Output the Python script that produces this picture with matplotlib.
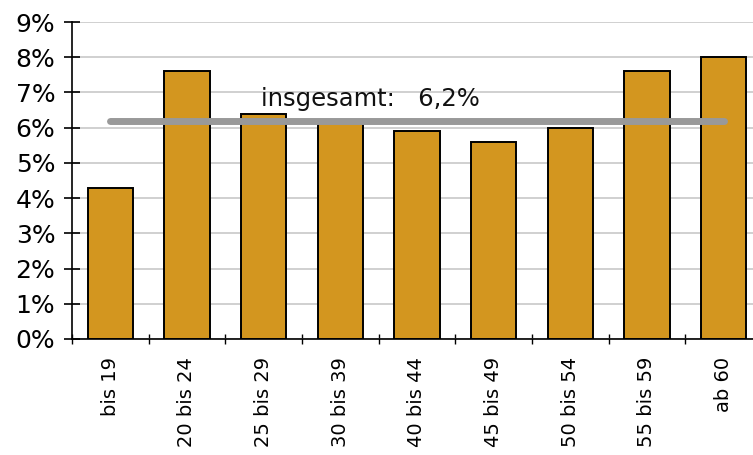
import numpy as np
import matplotlib
matplotlib.use('Agg')
import matplotlib.pyplot as plt

# Age groups and share (%) per group
categories = ['bis 19', '20 bis 24', '25 bis 29', '30 bis 39', '40 bis 44',
              '45 bis 49', '50 bis 54', '55 bis 59', 'ab 60']
values = [4.3, 7.6, 6.4, 6.2, 5.9, 5.6, 6.0, 7.6, 8.0]
overall = 6.2
overall_label = 'insgesamt:   6,2%'
y_ticks = [0, 1, 2, 3, 4, 5, 6, 7, 8, 9]

plt.rcParams['font.family'] = 'DejaVu Sans'

fig = plt.figure(figsize=(7.53, 4.55), dpi=100)
# axes runs a bit past the right figure edge, like the original
ax = fig.add_axes([72 / 753, (455 - 339) / 455, 690 / 753, (339 - 22) / 455])

x = np.arange(len(categories))
ax.bar(x, values, width=0.59, color='#D3961F', edgecolor='black',
       linewidth=1.4, zorder=2)

# overall average line
ax.plot([x[0], x[-1]], [overall, overall], color='#999999', linewidth=5,
        solid_capstyle='round', zorder=3)
ax.text(1.97, overall + 0.27, overall_label, fontsize=17.5, ha='left',
        va='bottom', color='#111111', zorder=4)

ax.set_xlim(-0.5, len(categories) - 0.5)
ax.set_ylim(0, 9)
ax.set_yticks(y_ticks)
ax.set_yticklabels([f'{v}%' for v in y_ticks], fontsize=18)
ax.yaxis.grid(True, color='#c8c8c8', linewidth=1.2, zorder=0)
ax.set_axisbelow(True)

# category ticks sit between the bars, labels at bar centers
ax.set_xticks(np.arange(len(categories) + 1) - 0.5)
ax.set_xticklabels([])
ax.set_xticks(x, minor=True)
ax.set_xticklabels(categories, minor=True, rotation=90, fontsize=14,
                   va='top', ha='center')
ax.tick_params(axis='x', which='minor', length=0, pad=13)
ax.tick_params(axis='x', which='major', direction='inout', length=7,
               width=1)
ax.tick_params(axis='y', direction='inout', length=12, width=1.2, pad=6)

for side in ['top', 'right']:
    ax.spines[side].set_visible(False)
ax.spines['left'].set_linewidth(1.2)
ax.spines['bottom'].set_linewidth(1.2)

fig.savefig('out.png', dpi=100)
